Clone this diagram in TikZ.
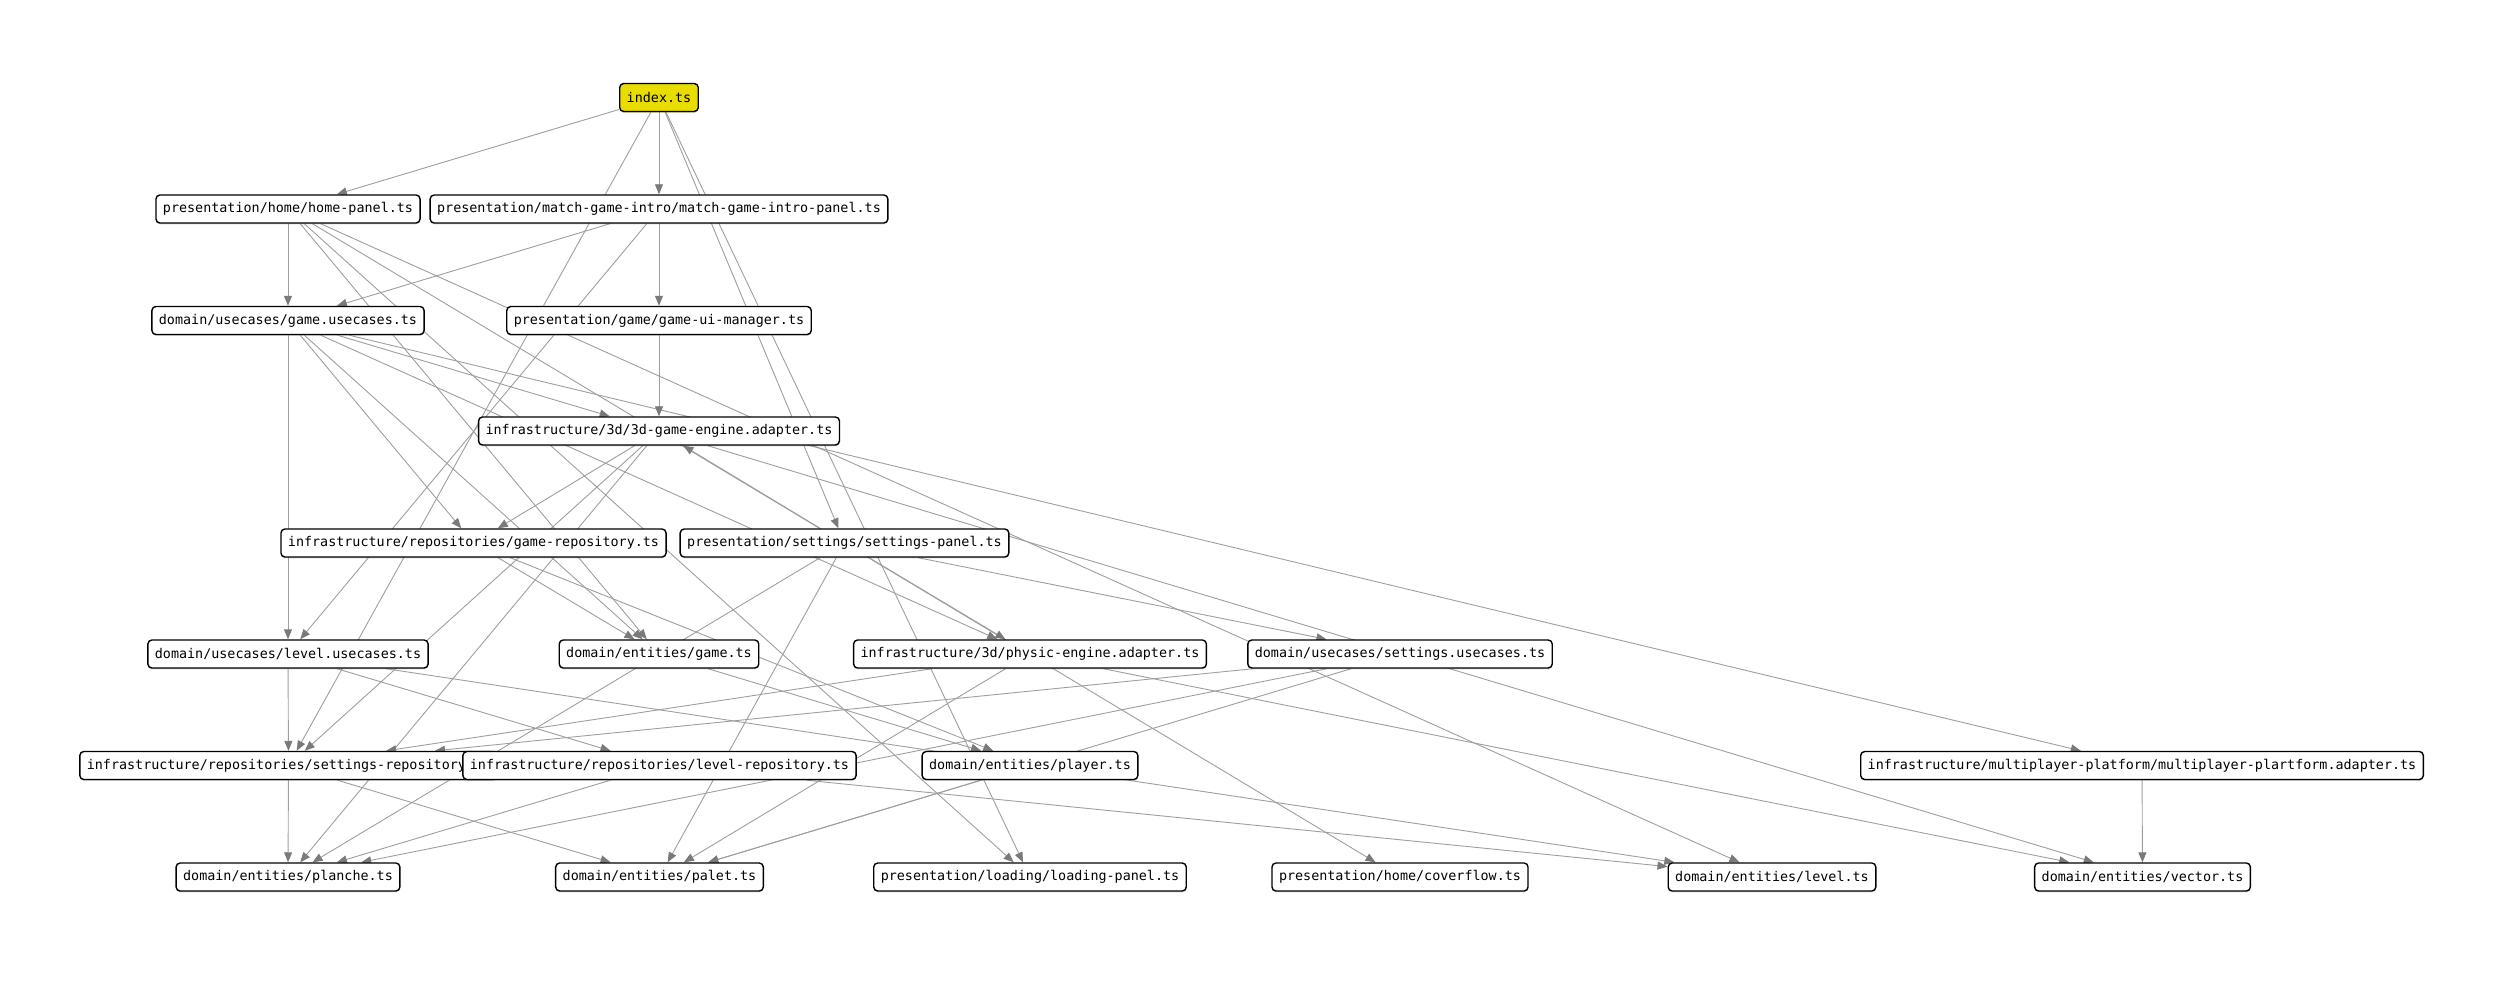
\documentclass[tikz,border=0pt]{standalone}
\usepackage{fontspec}
\usepackage{xcolor}
\usepackage{tikz}
\usetikzlibrary{arrows.meta, backgrounds, shadows}
\newfontfamily\codefont{DejaVu Sans Mono}
\definecolor{rootyellow}{RGB}{233,221,0}

\begin{document}
\begin{tikzpicture}[
  x=0.5pt, y=-0.5pt,
  font=\codefont\fontsize{6.7pt}{8pt}\selectfont,
  file/.style={draw, fill=white, rounded corners=2pt, line width=0.7pt,
               inner xsep=3.5pt, inner ysep=0pt, minimum height=14pt,
               drop shadow={shadow xshift=0pt, shadow yshift=-0.7pt, opacity=0.35}},
  root/.style={file, fill=rootyellow},
  dep/.style={draw=black!38, line width=0.45pt,
              -{Triangle[length=5pt, width=4pt, color=black!52]}}
]
\useasboundingbox (0,0) rectangle (2500,983);

% files, one row per rank
\node[root] (idx) at (659,97.5) {index.ts};
\node[file] (home) at (288,209) {presentation/home/home-panel.ts};
\node[file] (intro) at (659,209) {presentation/match-game-intro/match-game-intro-panel.ts};
\node[file] (gameuc) at (288,320.5) {domain/usecases/game.usecases.ts};
\node[file] (uimgr) at (659,320.5) {presentation/game/game-ui-manager.ts};
\node[file] (engine) at (659,431) {infrastructure/3d/3d-game-engine.adapter.ts};
\node[file] (gamerepo) at (473.5,543) {infrastructure/repositories/game-repository.ts};
\node[file] (setpanel) at (844.5,543) {presentation/settings/settings-panel.ts};
\node[file] (leveluc) at (288,654) {domain/usecases/level.usecases.ts};
\node[file] (entgame) at (659,654) {domain/entities/game.ts};
\node[file] (physic) at (1030,654) {infrastructure/3d/physic-engine.adapter.ts};
\node[file] (setuc) at (1400,654) {domain/usecases/settings.usecases.ts};
\node[file] (setrepo) at (288.5,765.5) {infrastructure/repositories/settings-repository.ts};
\node[file] (levelrepo) at (659.5,765.5) {infrastructure/repositories/level-repository.ts};
\node[file] (player) at (1030,765.5) {domain/entities/player.ts};
\node[file] (multi) at (2142,765.5) {infrastructure/multiplayer-platform/multiplayer-plartform.adapter.ts};
\node[file] (planche) at (288,877) {domain/entities/planche.ts};
\node[file] (palet) at (659.5,877) {domain/entities/palet.ts};
\node[file] (loading) at (1030,877) {presentation/loading/loading-panel.ts};
\node[file] (coverflow) at (1400,877) {presentation/home/coverflow.ts};
\node[file] (level) at (1772,877) {domain/entities/level.ts};
\node[file] (vector) at (2142.5,877) {domain/entities/vector.ts};

% imports
\begin{scope}[on background layer]
\draw[dep] (idx) -- (home);
\draw[dep] (idx) -- (intro);
\draw[dep] (idx) -- (setpanel);
\draw[dep] (idx) -- (loading);
\draw[dep] (idx) -- (setrepo);
\draw[dep] (home) -- (gameuc);
\draw[dep] (home) -- (entgame);
\draw[dep] (home) -- (loading);
\draw[dep] (home) -- (coverflow);
\draw[dep] (home) -- (level);
\draw[dep] (intro) -- (gameuc);
\draw[dep] (intro) -- (uimgr);
\draw[dep] (intro) -- (leveluc);
\draw[dep] (gameuc) -- (leveluc);
\draw[dep] (gameuc) -- (gamerepo);
\draw[dep] (gameuc) -- (entgame);
\draw[dep] (gameuc) -- (engine);
\draw[dep] (gameuc) -- (multi);
\draw[dep] (gameuc) -- (physic);
\draw[dep] (uimgr) -- (engine);
\draw[dep] (engine) -- (gamerepo);
\draw[dep] (engine) -- (setrepo);
\draw[dep] (engine) -- (planche);
\draw[dep] (engine) -- (vector);
\draw[dep] (gamerepo) -- (entgame);
\draw[dep] (gamerepo) -- (player);
\draw[dep] (setpanel) -- (engine);
\draw[dep] (setpanel) -- (setuc);
\draw[dep] (setpanel) -- (physic);
\draw[dep] (setpanel) -- (palet);
\draw[dep] (setpanel) -- (planche);
\draw[dep] (leveluc) -- (setrepo);
\draw[dep] (leveluc) -- (levelrepo);
\draw[dep] (leveluc) -- (level);
\draw[dep] (entgame) -- (player);
\draw[dep] (physic) -- (setrepo);
\draw[dep] (physic) -- (palet);
\draw[dep] (physic) -- (vector);
\draw[dep] (setuc) -- (setrepo);
\draw[dep] (setuc) -- (planche);
\draw[dep] (setuc) -- (palet);
\draw[dep] (setrepo) -- (planche);
\draw[dep] (setrepo) -- (palet);
\draw[dep] (levelrepo) -- (planche);
\draw[dep] (levelrepo) -- (level);
\draw[dep] (player) -- (palet);
\draw[dep] (multi) -- (vector);
\end{scope}
\end{tikzpicture}
\end{document}
